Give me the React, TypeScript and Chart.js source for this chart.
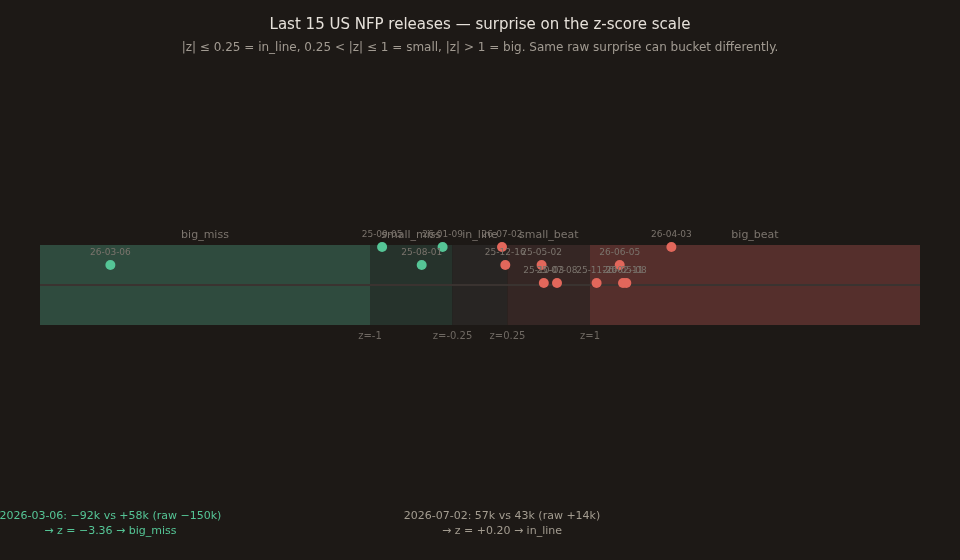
import { useEffect, useRef } from "react";
import { Chart, registerables, Plugin } from "chart.js";

Chart.register(...registerables);

// release dates (yy-mm-dd), surprise z-scores and stacking lane per release
const releaseDates = [
  "26-03-06", "25-09-05", "25-08-01", "26-01-09", "26-07-02",
  "25-12-16", "25-05-02", "25-10-03", "25-07-08", "25-11-20",
  "26-06-05", "26-04-03", "26-02-11", "26-05-08",
];
const zScores = [
  -3.36, -0.89, -0.53, -0.34, 0.2,
  0.23, 0.56, 0.58, 0.7, 1.06,
  1.27, 1.74, 1.3, 1.33,
];
const lanes = [1, 0, 1, 0, 0, 1, 1, 2, 2, 2, 1, 0, 2, 2];
const laneValues = [0.95, 0.5, 0.05];

// buckets
const bandEdges = [-4, -1, -0.25, 0.25, 1, 4];
const bandNames = ["big_miss", "small_miss", "in_line", "small_beat", "big_beat"];
const tickValues = [-1, -0.25, 0.25, 1];
const tickLabels = ["z=-1", "z=-0.25", "z=0.25", "z=1"];

// annotated releases
const noteDates = ["26-03-06", "26-07-02"];
const noteActual = ["\u221292k", "57k"];
const noteConsensus = ["+58k", "43k"];
const noteRaw = ["\u2212150k", "+14k"];

const BG = "#1d1916";
const GREEN = "#55c596";
const RED = "#e2675b";
const bandColors = ["#2f4b3e", "#26332c", "#282523", "#352624", "#552f2c"];
const FONT = "'DejaVu Sans', sans-serif";

function bucketOf(z: number) {
  for (let i = 0; i < bandNames.length; i++) {
    if (z <= bandEdges[i + 1]) return i;
  }
  return bandNames.length - 1;
}

function fmtSigned(z: number) {
  const s = Math.abs(z).toFixed(2);
  return z < 0 ? "\u2212" + s : "+" + s;
}

const zonePlugin: Plugin = {
  id: "zones",
  beforeDatasetsDraw(chart) {
    const { ctx, chartArea } = chart;
    const xs = chart.scales.x;
    const ys = chart.scales.y;
    ctx.save();
    bandNames.forEach((name, i) => {
      const x0 = xs.getPixelForValue(bandEdges[i]);
      const x1 = xs.getPixelForValue(bandEdges[i + 1]);
      ctx.fillStyle = bandColors[i];
      ctx.fillRect(x0, chartArea.top, x1 - x0, chartArea.bottom - chartArea.top);
      ctx.fillStyle = "#7b746d";
      ctx.font = `11px ${FONT}`;
      ctx.textAlign = "center";
      ctx.textBaseline = "middle";
      ctx.fillText(name, (x0 + x1) / 2, chartArea.top - 10);
    });
    const y0 = ys.getPixelForValue(0);
    ctx.strokeStyle = "#3a3330";
    ctx.lineWidth = 2;
    ctx.beginPath();
    ctx.moveTo(chartArea.left, y0);
    ctx.lineTo(chartArea.right, y0);
    ctx.stroke();

    ctx.fillStyle = "#6e6862";
    ctx.font = `10px ${FONT}`;
    tickValues.forEach((v, i) => {
      ctx.fillText(tickLabels[i], xs.getPixelForValue(v), chartArea.bottom + 11);
    });
    ctx.restore();
  },
  afterDatasetsDraw(chart) {
    const { ctx } = chart;
    const xs = chart.scales.x;
    const ys = chart.scales.y;
    const w = chart.width;
    ctx.save();
    ctx.textAlign = "center";
    ctx.textBaseline = "middle";

    ctx.fillStyle = "#7a736c";
    ctx.font = `9px ${FONT}`;
    releaseDates.forEach((d, i) => {
      const x = xs.getPixelForValue(zScores[i]);
      const y = ys.getPixelForValue(laneValues[lanes[i]]);
      ctx.fillText(d, x, y - 12);
    });

    ctx.fillStyle = "#e6e1da";
    ctx.font = `15px ${FONT}`;
    ctx.fillText("Last 15 US NFP releases \u2014 surprise on the z-score scale", w / 2, 25);
    ctx.fillStyle = "#a29b92";
    ctx.font = `12px ${FONT}`;
    ctx.fillText(
      "|z| \u2264 0.25 = in_line, 0.25 < |z| \u2264 1 = small, |z| > 1 = big. Same raw surprise can bucket differently.",
      w / 2,
      48
    );

    noteDates.forEach((d, n) => {
      const i = releaseDates.indexOf(d);
      const z = zScores[i];
      const b = bucketOf(z);
      const x = xs.getPixelForValue(z);
      ctx.fillStyle = b === 0 ? GREEN : b === 4 ? RED : "#a39c90";
      ctx.font = `11px ${FONT}`;
      ctx.fillText(`20${d}: ${noteActual[n]} vs ${noteConsensus[n]} (raw ${noteRaw[n]})`, x, 516);
      ctx.fillText(`\u2192 z = ${fmtSigned(z)} \u2192 ${bandNames[b]}`, x, 531);
    });
    ctx.restore();
  },
};

export default function App() {
  const canvasRef = useRef<HTMLCanvasElement>(null);

  useEffect(() => {
    if (!canvasRef.current) return;
    const chart = new Chart(canvasRef.current, {
      type: "scatter",
      data: {
        datasets: [
          {
            label: "surprise",
            data: zScores.map((z, i) => ({ x: z, y: laneValues[lanes[i]] })),
            clip: false,
            pointRadius: 5,
            pointHoverRadius: 5,
            pointBorderWidth: 0,
            pointBackgroundColor: zScores.map((z) => (z < 0 ? GREEN : RED)),
            pointBorderColor: zScores.map((z) => (z < 0 ? GREEN : RED)),
          },
        ],
      },
      options: {
        responsive: false,
        animation: false,
        devicePixelRatio: 1,
        layout: { padding: { left: 40, right: 40, top: 245, bottom: 235 } },
        scales: {
          x: { type: "linear", min: -4, max: 4, display: false },
          y: { type: "linear", min: -1, max: 1, display: false },
        },
        plugins: {
          legend: { display: false },
          tooltip: { enabled: false },
        },
      },
      plugins: [zonePlugin],
    });
    return () => chart.destroy();
  }, []);

  return (
    <div style={{ position: "fixed", left: 0, top: 0, width: 960, height: 560, background: BG }}>
      <canvas ref={canvasRef} width={960} height={560}></canvas>
    </div>
  );
}
